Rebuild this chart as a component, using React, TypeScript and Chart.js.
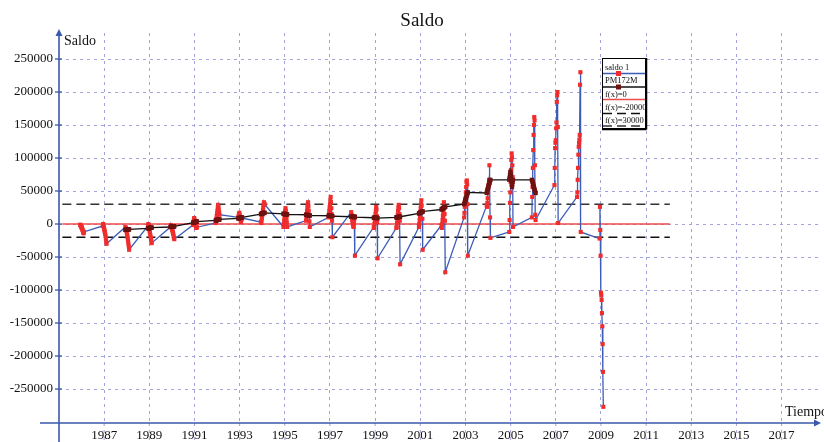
import React, { useEffect, useRef } from "react";
import { Chart, registerables } from "chart.js";

Chart.register(...registerables);

const SERIF = "'Liberation Serif', 'DejaVu Serif', serif";

const chartTitle = "Saldo";
const yAxisTitle = "Saldo";
const xAxisTitle = "Tiempo";

const xTickValues = [1987, 1989, 1991, 1993, 1995, 1997, 1999, 2001, 2003, 2005, 2007, 2009, 2011, 2013, 2015, 2017];
const yTickValues = [-250000, -200000, -150000, -100000, -50000, 0, 50000, 100000, 150000, 200000, 250000];

// Monthly balance ("saldo 1"), one row per year, January..December
const saldoYears = [1986, 1987, 1988, 1989, 1990, 1991, 1992, 1993, 1994, 1995, 1996, 1997, 1998, 1999, 2000, 2001, 2002, 2003, 2004, 2005, 2006, 2007, 2008, 2009];
const saldoMonthly: number[][] = [
  [-1000, -2000, -3000, -4000, -6000, -5000, -8000, -9000, -11000, -13000, -14000, -12000],
  [-3000, 0, -2000, -5000, -8000, -10000, -12000, -15000, -18000, -22000, -26000, -30000],
  [-4500, -6000, -8000, -10000, -13000, -16000, -19000, -22000, -26000, -30000, -34000, -39000],
  [-3000, 0, -2000, -5000, -8000, -11000, -14000, -17000, -20000, -23000, -26000, -29000],
  [-4500, -1500, -3000, -5000, -7000, -9000, -11000, -13000, -15000, -18000, -21000, -23000],
  [-1500, 2000, 5000, 9000, 7000, 4000, 1000, -1000, -3000, -6000, -4000, -5000],
  [1500, 4000, 8000, 12000, 16000, 20000, 25000, 29000, 26000, 22000, 18000, 14000],
  [10000, 12000, 15000, 17000, 14000, 11000, 8000, 5000, 3000, 6000, 8000, 9000],
  [3000, 1500, 5000, 9000, 13000, 17000, 21000, 25000, 29000, 33000, 31000, 30000],
  [-4500, 0, 5000, 10000, 15000, 20000, 24000, 20000, 14000, 8000, 2000, -4500],
  [5000, 10000, 15000, 20000, 25000, 30000, 33000, 27000, 20000, 12000, 4000, -4500],
  [10000, 15000, 20000, 25000, 30000, 36000, 41000, 33000, 24000, 15000, 5000, -20000],
  [18000, 14000, 10000, 6000, 3000, 0, -3000, -4500, 2000, 8000, 12000, -48000],
  [-4500, -6000, 0, 5000, 10000, 15000, 20000, 26000, 22000, 12000, 3000, -52000],
  [-6000, -4500, 2000, 8000, 14000, 20000, 25000, 29000, 24000, 15000, 5000, -61000],
  [-4500, 0, 6000, 12000, 18000, 24000, 30000, 36000, 28000, 18000, 8000, -39000],
  [-1500, -6000, 0, 6000, 12000, 18000, 24000, 33000, 26000, 15000, 5000, -73000],
  [10000, 17000, 26000, 36000, 39000, 48000, 56000, 64000, 66000, 60000, 30000, -48000],
  [28000, 26000, 32000, 39000, 47000, 55000, 59000, 67000, 89000, 62000, 10000, -21000],
  [-12000, 6000, 32000, 48000, 64000, 82000, 97000, 107000, 101000, 89000, 71000, -4500],
  [10000, 41000, 56000, 85000, 112000, 135000, 150000, 162000, 157000, 89000, 14000, 6000],
  [59000, 85000, 115000, 123000, 127000, 145000, 154000, 185000, 195000, 200000, 147000, 1500],
  [41000, 48000, 67000, 85000, 105000, 117000, 123000, 128000, 135000, 211000, 230000, -12000],
  [-22000, 26000, -9000, -48000, -104000, -108000, -115000, -135000, -155000, -182000, -224000, -277000],
];

// Moving average ("PM172M"), one row per year
const pmYears = [1988, 1989, 1990, 1991, 1992, 1993, 1994, 1995, 1996, 1997, 1998, 1999, 2000, 2001, 2002, 2003, 2004, 2005, 2006];
const pmMonthly: number[][] = [
  [-9000, -9000, -8800, -8700, -8600, -8500, -8500, -8400, -8300, -8200, -8100, -8000],
  [-6500, -6400, -6300, -6200, -6100, -6000, -6000, -5900, -5800, -5700, -5600, -5500],
  [-4500, -4400, -4300, -4200, -4100, -4000, -4000, -3900, -3800, -3700, -3600, -3500],
  [2000, 2200, 2400, 2600, 2800, 3000, 3000, 3200, 3400, 3500, 3600, 3800],
  [5500, 5600, 5800, 6000, 6000, 6200, 6300, 6400, 6500, 6600, 6800, 7000],
  [8500, 8600, 8800, 9000, 9000, 9200, 9400, 9500, 9600, 9800, 10000, 10000],
  [15000, 15200, 15500, 15800, 16000, 16200, 16400, 16500, 16600, 16800, 17000, 17000],
  [15500, 15400, 15300, 15200, 15100, 15000, 15000, 14900, 14800, 14700, 14600, 14500],
  [14000, 13900, 13800, 13700, 13600, 13500, 13500, 13400, 13300, 13200, 13100, 13000],
  [12500, 12400, 12400, 12300, 12300, 12200, 12200, 12100, 12100, 12000, 12000, 12000],
  [11000, 11000, 10900, 10900, 10800, 10800, 10700, 10700, 10600, 10600, 10500, 10500],
  [9500, 9500, 9400, 9400, 9300, 9300, 9200, 9200, 9100, 9100, 9000, 9000],
  [10000, 10100, 10200, 10300, 10400, 10500, 10600, 10700, 10800, 10900, 11000, 11000],
  [16000, 16300, 16600, 16900, 17200, 17500, 17800, 18000, 18300, 18600, 18800, 19000],
  [22000, 22400, 22800, 23200, 23600, 24000, 24400, 24800, 25200, 25500, 25800, 26000],
  [30000, 31000, 33000, 35000, 36000, 38000, 40000, 42000, 44000, 45000, 47000, 48000],
  [47000, 49000, 51000, 53000, 55000, 57000, 59000, 61000, 63000, 65000, 66000, 67000],
  [67000, 70000, 74000, 79000, 76000, 72000, 66000, 60000, 56000, 60000, 64000, 67000],
  [67000, 66000, 64000, 62000, 60000, 58000, 56000, 54000, 52000, 50000, 48000, 47000],
];

// Constant reference functions
const fZero = 0;
const fLow = -20000;
const fHigh = 30000;
const fDomain = [1985.15, 2012.05];

const xMin = 1985;
const xMax = 2018.7;
const yMin = -301500;
const yMax = 289400;

const monthTime = (year: number, m: number) => year - 0.06 + m * 0.015;

const toPoints = (years: number[], rows: number[][]) =>
  years.flatMap((yr, i) => rows[i].map((v, m) => ({ x: monthTime(yr, m), y: v })));

const fLine = (v: number) => fDomain.map((x) => ({ x, y: v }));

const AXIS = "#3a58ac";
const GRID = "#a2a2de";

const decor = {
  id: "decor",
  afterDraw(chart: any) {
    const { ctx, chartArea: ca, scales } = chart;
    const xs = scales.x;
    const ys = scales.y;
    const line = (x1: number, y1: number, x2: number, y2: number) => {
      ctx.beginPath();
      ctx.moveTo(x1, y1);
      ctx.lineTo(x2, y2);
      ctx.stroke();
    };
    ctx.save();
    // vertical grid continues below the axis
    ctx.strokeStyle = GRID;
    ctx.lineWidth = 1;
    ctx.setLineDash([3, 4]);
    xTickValues.forEach((v) => {
      const px = xs.getPixelForValue(v);
      line(px, ca.bottom, px, chart.height);
    });
    ctx.setLineDash([]);

    // axes
    ctx.strokeStyle = AXIS;
    ctx.fillStyle = AXIS;
    ctx.lineWidth = 1.6;
    line(ca.left, ca.top - 2, ca.left, chart.height);
    line(40, ca.bottom, ca.right - 3, ca.bottom);
    ctx.beginPath();
    ctx.moveTo(ca.left, ca.top - 4);
    ctx.lineTo(ca.left - 3.5, ca.top + 3);
    ctx.lineTo(ca.left + 3.5, ca.top + 3);
    ctx.closePath();
    ctx.fill();
    ctx.beginPath();
    ctx.moveTo(ca.right + 1, ca.bottom);
    ctx.lineTo(ca.right - 6, ca.bottom - 3.5);
    ctx.lineTo(ca.right - 6, ca.bottom + 3.5);
    ctx.closePath();
    ctx.fill();
    ctx.lineWidth = 1.3;
    yTickValues.forEach((v) => {
      const py = ys.getPixelForValue(v);
      line(ca.left - 4, py, ca.left + 3, py);
    });

    // texts
    ctx.fillStyle = "#111";
    ctx.textBaseline = "alphabetic";
    ctx.textAlign = "center";
    ctx.font = `19px ${SERIF}`;
    ctx.fillText(chartTitle, 422, 26);
    ctx.textAlign = "left";
    ctx.font = `14px ${SERIF}`;
    ctx.fillText(yAxisTitle, ca.left + 5, 45);
    ctx.fillText(xAxisTitle, 785, 416);

    // legend box
    const bx = 602, by = 58, bw = 43, bh = 70;
    ctx.fillStyle = "#fff";
    ctx.fillRect(bx, by, bw, bh);
    ctx.strokeStyle = "#000";
    ctx.lineWidth = 1;
    ctx.strokeRect(bx + 0.5, by + 0.5, bw, bh);
    ctx.lineWidth = 1.5;
    line(bx + bw + 1.5, by, bx + bw + 1.5, by + bh + 1.5);
    line(bx, by + bh + 1.5, bx + bw + 1.5, by + bh + 1.5);

    const rows = [
      { text: 12, line: 15.5 },
      { text: 25, line: 29 },
      { text: 39, line: 41.5 },
      { text: 52, line: 55.5 },
      { text: 65, line: 68 },
    ];
    chart.data.datasets.forEach((ds: any, i: number) => {
      const legendIndex = [1, 0, 2, 3, 4][i];
      const r = rows[legendIndex];
      ctx.fillStyle = "#111";
      ctx.font = `8.5px ${SERIF}`;
      ctx.textAlign = "left";
      ctx.fillText(ds.label, bx + 3, by + r.text);
      ctx.strokeStyle = ds.borderColor;
      ctx.lineWidth = ds.borderWidth;
      ctx.setLineDash(ds.borderDash || []);
      line(bx + 1, by + r.line, bx + bw, by + r.line);
      ctx.setLineDash([]);
      if (ds.pointRadius > 0) {
        ctx.fillStyle = ds.pointBackgroundColor;
        ctx.fillRect(bx + 14, by + r.line - 2.5, 5, 5);
      }
    });
    ctx.restore();
  },
};

export default function App() {
  const ref = useRef<HTMLCanvasElement>(null);
  useEffect(() => {
    document.body.style.margin = "0";
    Chart.defaults.font.family = SERIF;
    const chart = new Chart(ref.current!, {
      type: "scatter",
      data: {
        datasets: [
          {
            label: "PM172M",
            data: toPoints(pmYears, pmMonthly),
            showLine: true,
            borderColor: "#111",
            borderWidth: 1.3,
            pointStyle: "rect",
            pointRadius: 3,
            pointBorderWidth: 0,
            pointBackgroundColor: "#6e1212",
          } as any,
          {
            label: "saldo 1",
            data: toPoints(saldoYears, saldoMonthly),
            showLine: true,
            borderColor: "#3c5cb6",
            borderWidth: 1.3,
            pointStyle: "rect",
            pointRadius: 2.9,
            pointBorderWidth: 0,
            pointBackgroundColor: "#f02c2c",
          } as any,
          {
            label: "f(x)=0",
            data: fLine(fZero),
            showLine: true,
            borderColor: "#ee4b4b",
            borderWidth: 1.4,
            pointRadius: 0,
          } as any,
          {
            label: "f(x)=-20000",
            data: fLine(fLow),
            showLine: true,
            borderColor: "#111",
            borderWidth: 1.6,
            borderDash: [9, 5],
            pointRadius: 0,
          } as any,
          {
            label: "f(x)=30000",
            data: fLine(fHigh),
            showLine: true,
            borderColor: "#333",
            borderWidth: 1.6,
            borderDash: [9, 5],
            pointRadius: 0,
          } as any,
        ],
      },
      options: {
        animation: false,
        responsive: false,
        layout: { padding: { top: 33, right: 2, left: 0, bottom: 0 } },
        plugins: {
          legend: { display: false },
          tooltip: { enabled: false },
          title: { display: false },
        },
        scales: {
          x: {
            type: "linear",
            min: xMin,
            max: xMax,
            afterBuildTicks: (s: any) => {
              s.ticks = xTickValues.map((v) => ({ value: v }));
            },
            afterFit: (s: any) => {
              s.height = 19;
            },
            ticks: {
              autoSkip: false,
              maxRotation: 0,
              padding: 5,
              color: "#111",
              font: { family: SERIF, size: 13 },
              callback: (v: any) => String(v),
            },
            grid: { color: GRID, lineWidth: 1, drawTicks: false },
            border: { display: false, dash: [3, 4] },
          },
          y: {
            type: "linear",
            min: yMin,
            max: yMax,
            afterBuildTicks: (s: any) => {
              s.ticks = yTickValues.map((v) => ({ value: v }));
            },
            afterFit: (s: any) => {
              s.width = 59;
            },
            ticks: {
              padding: 6,
              color: "#111",
              font: { family: SERIF, size: 13 },
              callback: (v: any) => String(v),
            },
            grid: { color: GRID, lineWidth: 1, drawTicks: false },
            border: { display: false, dash: [3, 4] },
          },
        },
      } as any,
      plugins: [decor],
    });
    return () => chart.destroy();
  }, []);
  return (
    <div style={{ width: 824, height: 442 }}>
      <canvas ref={ref} width={824} height={442} />
    </div>
  );
}
